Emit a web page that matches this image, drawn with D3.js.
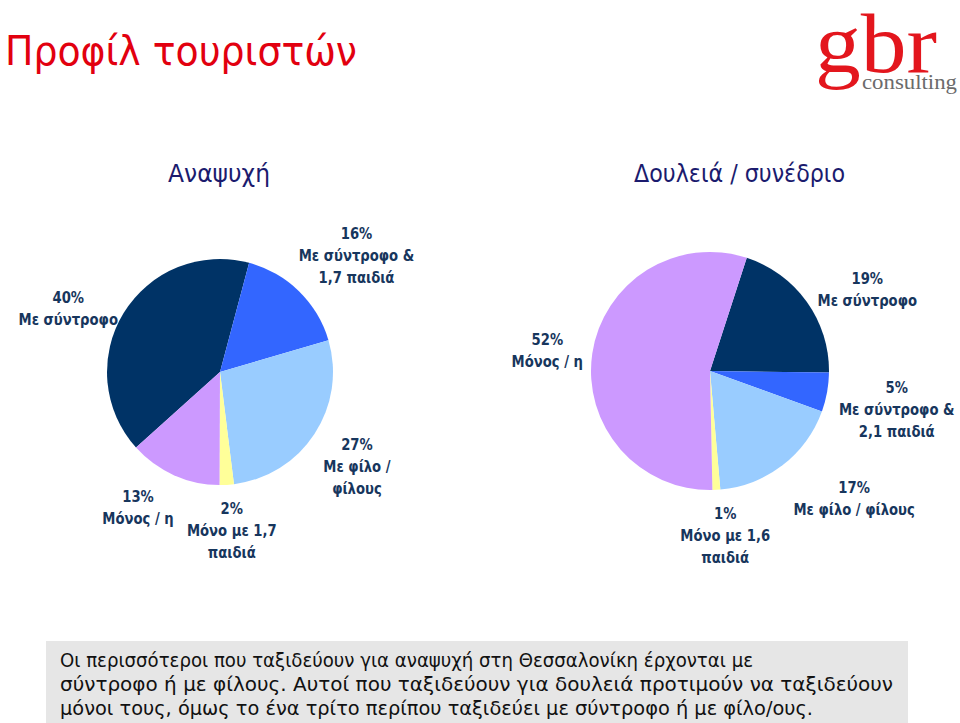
<!DOCTYPE html>
<html>
<head>
<meta charset="utf-8">
<script src="https://cdn.jsdelivr.net/npm/d3@7"></script>
<style>
  html, body { margin: 0; padding: 0; background: #fff; }
  svg { display: block; }
</style>
</head>
<body>
<svg id="chart" width="960" height="723"></svg>
<script>
// ---------- DATA ----------
const categories = ["Με σύντροφο", "Με σύντροφο & παιδιά", "Με φίλο / φίλους", "Μόνο με παιδιά", "Μόνος / η"];
const leisureValues = [40, 16, 27, 2, 13];
const businessValues = [19, 5, 17, 1, 52];
const leisureLabels = [["Με σύντροφο"], ["Με σύντροφο &", "1,7 παιδιά"], ["Με φίλο /", "φίλους"], ["Μόνο με 1,7", "παιδιά"], ["Μόνος / η"]];
const businessLabels = [["Με σύντροφο"], ["Με σύντροφο &", "2,1 παιδιά"], ["Με φίλο / φίλους"], ["Μόνο με 1,6", "παιδιά"], ["Μόνος / η"]];
const pieTitles = ["Αναψυχή", "Δουλειά / συνέδριο"];
const mainTitle = "Προφίλ τουριστών";
const noteLines = [
  "Οι περισσότεροι που ταξιδεύουν για αναψυχή στη Θεσσαλονίκη έρχονται με",
  "σύντροφο ή με φίλους. Αυτοί που ταξιδεύουν για δουλειά προτιμούν να ταξιδεύουν",
  "μόνοι τους, όμως το ένα τρίτο περίπου ταξιδεύει με σύντροφο ή με φίλο/ους."
];

// ---------- STYLE / LAYOUT ----------
const sliceColors = ["#003366", "#3366FF", "#99CCFF", "#FFFF99", "#CC99FF"];
const labelColor = "#17365d";
const svg = d3.select("#chart");

// Main title
svg.append("text").attr("x", 5).attr("y", 65)
  .attr("font-family", "DejaVu Sans").attr("font-size", 40)
  .attr("fill", "#e2000f")
  .attr("textLength", 352).attr("lengthAdjust", "spacingAndGlyphs")
  .text(mainTitle);

// Logo
svg.append("text").attr("x", 815).attr("y", 72)
  .attr("font-family", "Liberation Serif").attr("font-size", 84)
  .attr("fill", "#e3161d")
  .attr("textLength", 122).attr("lengthAdjust", "spacingAndGlyphs")
  .text("gbr");
svg.append("text").attr("x", 862).attr("y", 89)
  .attr("font-family", "Liberation Serif").attr("font-size", 21)
  .attr("fill", "#6b6b6b")
  .attr("textLength", 95).attr("lengthAdjust", "spacingAndGlyphs")
  .text("consulting");

// Pie titles
const titleCfg = [{x: 168, w: 102}, {x: 634, w: 211}];
pieTitles.forEach((t, i) => {
  svg.append("text").attr("x", titleCfg[i].x).attr("y", 182)
    .attr("font-family", "DejaVu Sans").attr("font-size", 25)
    .attr("fill", "#1b1b6e")
    .attr("textLength", titleCfg[i].w).attr("lengthAdjust", "spacingAndGlyphs")
    .text(t);
});

// Pies
const pies = [
  {values: leisureValues, labels: leisureLabels, cx: 220, cy: 372, r: 113, start: -132,
   nudges: [[-12, 22], [22, 1], [0, 5], [2, -5], [-15, -14]]},
  {values: businessValues, labels: businessLabels, cx: 710, cy: 371, r: 119, start: 18,
   nudges: [[17, 19], [17, 8], [39, -9], [6, -8], [8, 5]]}
];

pies.forEach(p => {
  const pie = d3.pie().sort(null).value(d => d)
    .startAngle(p.start * Math.PI / 180)
    .endAngle(p.start * Math.PI / 180 + 2 * Math.PI);
  const arcs = pie(p.values);
  const arc = d3.arc().innerRadius(0).outerRadius(p.r);
  const labelArc = d3.arc().innerRadius(p.r * 1.45).outerRadius(p.r * 1.45);
  const g = svg.append("g").attr("transform", `translate(${p.cx},${p.cy})`);
  g.selectAll("path").data(arcs).join("path")
    .attr("d", arc)
    .attr("fill", (d, i) => sliceColors[i]);

  arcs.forEach((a, i) => {
    const c = labelArc.centroid(a);
    const lines = [p.values[i] + "%"].concat(p.labels[i]);
    const lh = 22;
    const x = c[0] + p.nudges[i][0];
    const y = c[1] + p.nudges[i][1] - (lines.length - 1) * lh / 2;
    const t = g.append("g").attr("transform", `translate(${x},${y}) scale(0.88,1)`);
    lines.forEach((ln, k) => {
      t.append("text").attr("x", 0).attr("y", k * lh)
        .attr("dy", "0.36em")
        .attr("text-anchor", "middle")
        .attr("font-family", "DejaVu Sans").attr("font-weight", "bold")
        .attr("font-size", 15).attr("fill", labelColor)
        .text(ln);
    });
  });
});

// Bottom note box
svg.append("rect").attr("x", 46).attr("y", 641).attr("width", 862).attr("height", 82)
  .attr("fill", "#e6e6e6");
const noteW = [693, 833, 753];
noteLines.forEach((ln, i) => {
  svg.append("text").attr("x", 60).attr("y", 667 + i * 24)
    .attr("font-family", "DejaVu Sans").attr("font-size", 20)
    .attr("fill", "#111")
    .attr("textLength", noteW[i]).attr("lengthAdjust", "spacingAndGlyphs")
    .text(ln);
});
</script>
</body>
</html>
